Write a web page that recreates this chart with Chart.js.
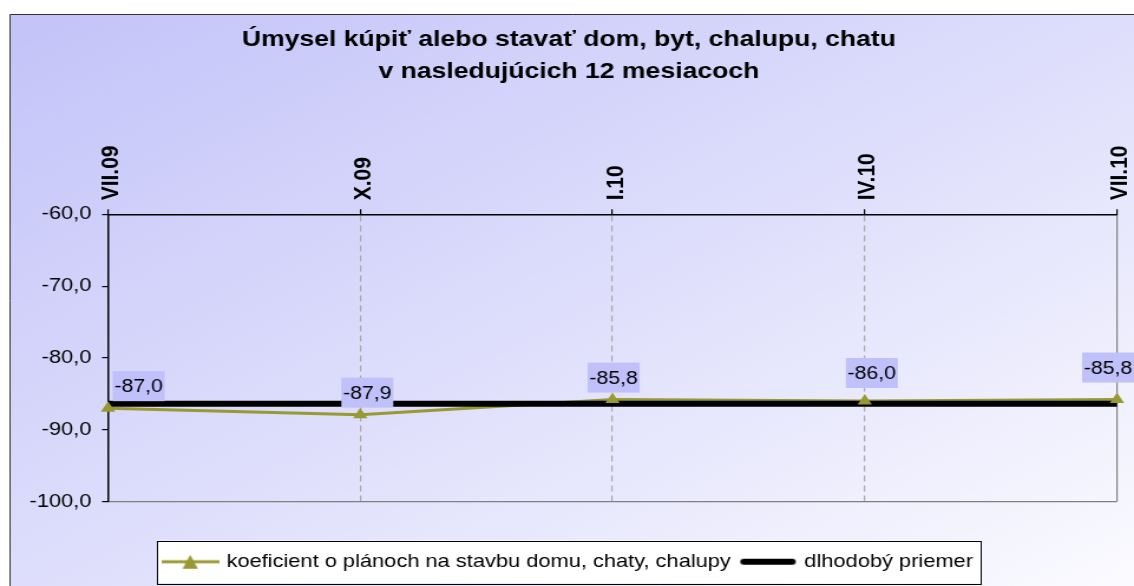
<!DOCTYPE html>
<html>
<head>
<meta charset="utf-8">
<script src="https://cdn.jsdelivr.net/npm/chart.js@4/dist/chart.umd.min.js"></script>
<style>
html, body { margin: 0; padding: 0; background: #fff; overflow: hidden; }
/* the reference picture is stretched sideways, so the canvas is too */
#obal { width: 961px; height: 586px; transform: scaleX(1.18); transform-origin: 0 0; }
</style>
</head>
<body>
<div id="obal"><canvas id="graf" width="961" height="586"></canvas></div>
<script>
// ============================================================================
// DATA
// ============================================================================
const obdobia = ['VII.09', 'X.09', 'I.10', 'IV.10', 'VII.10'];
const koeficient = [-87.0, -87.9, -85.8, -86.0, -85.8];
const priemer = [-86.4, -86.4, -86.4, -86.4, -86.4];
const osY = [-100, -90, -80, -70, -60];

const nazovKoef = 'koeficient o plánoch na stavbu domu, chaty, chalupy';
const nazovPriemer = 'dlhodobý priemer';
const titulok = ['Úmysel kúpiť alebo stavať dom, byt, chalupu, chatu', 'v nasledujúcich 12 mesiacoch'];


// ============================================================================
// STYL
// ============================================================================
const PISMO = '"Liberation Sans", Arial, sans-serif';
const OLIVA = '#999933';

Chart.defaults.font.family = PISMO;
Chart.defaults.color = '#000';

const fmt = v => v.toFixed(1).replace('.', ',');

// vzorky do legendy (ciara + trojuholnik, hruba cierna ciara)
function vzorkaKoef() {
    const c = document.createElement('canvas');
    c.width = 49; c.height = 18;
    const g = c.getContext('2d');
    g.strokeStyle = OLIVA; g.lineWidth = 3;
    g.beginPath(); g.moveTo(0, 9); g.lineTo(49, 9); g.stroke();
    g.fillStyle = OLIVA;
    g.beginPath(); g.moveTo(24.5, 2); g.lineTo(31, 16); g.lineTo(18, 16); g.closePath(); g.fill();
    return c;
}

function vzorkaPriemer() {
    const c = document.createElement('canvas');
    c.width = 49; c.height = 18;
    const g = c.getContext('2d');
    g.strokeStyle = '#000'; g.lineWidth = 6; g.lineCap = 'round';
    g.beginPath(); g.moveTo(4, 9); g.lineTo(45, 9); g.stroke();
    return c;
}

const vzorky = [vzorkaKoef(), vzorkaPriemer()];


// ============================================================================
// PLUGINY
// ============================================================================
const pozadie = {
    id: 'pozadie',
    beforeDraw(chart) {
        const ctx = chart.ctx;
        ctx.save();
        const gr = ctx.createLinearGradient(8.5, 14, 516, 858);
        gr.addColorStop(0, '#c3c3f9');
        gr.addColorStop(0.5, '#dedefc');
        gr.addColorStop(1, '#fbfbff');
        ctx.fillStyle = gr;
        ctx.fillRect(8.5, 14.5, chart.width, chart.height);

        ctx.strokeStyle = '#333';
        ctx.lineWidth = 1;
        ctx.beginPath();
        ctx.moveTo(8.5, chart.height + 5);
        ctx.lineTo(8.5, 14.5);
        ctx.lineTo(chart.width + 5, 14.5);
        ctx.stroke();

        // ramik legendy
        const boxy = chart.legend && chart.legend.legendHitBoxes;
        if (boxy && boxy.length) {
            const l = Math.min(...boxy.map(b => b.left)) - 6.5;
            const r = Math.max(...boxy.map(b => b.left + b.width)) + 7;
            const t = boxy[0].top - 12;
            const b = boxy[0].top + boxy[0].height + 12;
            ctx.fillStyle = '#fff';
            ctx.fillRect(l, t, r - l, b - t);
            ctx.strokeStyle = '#000';
            ctx.strokeRect(Math.round(l) + 0.5, Math.round(t) + 0.5, Math.round(r - l), Math.round(b - t));
        }
        ctx.restore();
    }
};

const popisky = {
    id: 'popisky',
    afterDatasetsDraw(chart) {
        const ctx = chart.ctx;
        const zdvih = [7, 7, 7, 13, 17];   // o kolko je stitok nad bodom
        const posun = [4, 6, 1, 6, 0];     // vodorovny posun stitku
        const meta = chart.getDatasetMeta(0);
        ctx.save();
        ctx.font = '18px ' + PISMO;
        ctx.textAlign = 'left';
        ctx.textBaseline = 'middle';
        meta.data.forEach((bod, i) => {
            const text = fmt(koeficient[i]);
            const w = ctx.measureText(text).width + 3;
            const h = 30;
            let x = i === 0 ? bod.x + posun[i] : bod.x - w / 2 + posun[i];
            x = Math.min(x, chart.width - w);
            const spodok = bod.y - zdvih[i];
            ctx.fillStyle = '#c0c0fa';
            ctx.fillRect(x, spodok - h, w, h);
            ctx.fillStyle = '#000';
            ctx.fillText(text, x + 1.5, spodok - h / 2 + 1);
        });
        ctx.restore();
    }
};


// ============================================================================
// GRAF
// ============================================================================
new Chart(document.getElementById('graf'), {
    type: 'line',
    data: {
        labels: obdobia,
        datasets: [
            {
                label: nazovKoef,
                data: koeficient,
                borderColor: OLIVA,
                borderWidth: 3,
                pointRadius: 0,
                tension: 0,
                clip: false,
                order: 3
            },
            {
                label: nazovPriemer,
                data: priemer,
                borderColor: '#000',
                borderWidth: 6,
                pointRadius: 0,
                clip: false,
                order: 2
            },
            {
                label: 'body',
                data: koeficient,
                showLine: false,
                pointStyle: 'triangle',
                pointRadius: 7,
                pointBackgroundColor: OLIVA,
                pointBorderColor: OLIVA,
                pointBorderWidth: 0,
                clip: false,
                order: 1
            }
        ]
    },
    options: {
        responsive: false,
        animation: false,
        devicePixelRatio: 1,
        layout: { padding: { left: 17.6, right: 14.4, top: 0, bottom: 5 } },
        plugins: {
            tooltip: { enabled: false },
            title: {
                display: true,
                text: titulok,
                color: '#000',
                font: { size: 22.5, weight: 'bold', lineHeight: 1.43 },
                padding: { top: 24, bottom: 0 }
            },
            legend: {
                position: 'bottom',
                title: { display: true, text: '', font: { size: 10, lineHeight: 1 }, padding: { top: 31, bottom: 0 } },
                labels: {
                    usePointStyle: true,
                    pointStyleWidth: 43,
                    boxHeight: 18,
                    padding: 10,
                    color: '#000',
                    font: { size: 18.5 },
                    filter: it => it.datasetIndex !== 2,
                    sort: (a, b) => a.datasetIndex - b.datasetIndex,
                    generateLabels: chart =>
                        Chart.defaults.plugins.legend.labels.generateLabels(chart)
                            .map(it => Object.assign(it, { pointStyle: vzorky[it.datasetIndex] || it.pointStyle }))
                }
            }
        },
        scales: {
            x: {
                type: 'category',
                position: 'top',
                offset: false,
                grid: {
                    offset: false,
                    color: c => c.index === 0 ? 'rgba(0,0,0,0)' : (c.index === obdobia.length - 1 ? '#808080' : '#a8a8a8'),
                    lineWidth: 1.2,
                    tickColor: '#000',
                    tickLength: 5,
                    tickWidth: 1.2
                },
                border: {
                    display: true,
                    color: '#000',
                    width: 1.5,
                    dash: c => (c.index > 0 && c.index < obdobia.length - 1) ? [6, 4] : []
                },
                ticks: {
                    autoSkip: false,
                    maxRotation: 90,
                    minRotation: 90,
                    padding: 9,
                    labelOffset: 28,
                    color: '#000',
                    font: { size: 21, weight: 'bold' }
                },
                afterFit: s => { s.height = 126; }
            },
            y: {
                min: osY[0],
                max: osY[osY.length - 1],
                ticks: {
                    stepSize: osY[1] - osY[0],
                    padding: 9,
                    color: '#000',
                    font: { size: 18.5 },
                    callback: v => fmt(v)
                },
                grid: {
                    color: c => c.tick && c.tick.value === osY[0] ? '#808080' : 'rgba(0,0,0,0)',
                    lineWidth: 1.2,
                    tickColor: '#000',
                    tickLength: 5
                },
                border: { display: true, color: '#000', width: 1.5 },
                afterFit: s => { s.width = 73.9; }
            }
        }
    },
    plugins: [pozadie, popisky]
});
</script>
</body>
</html>
